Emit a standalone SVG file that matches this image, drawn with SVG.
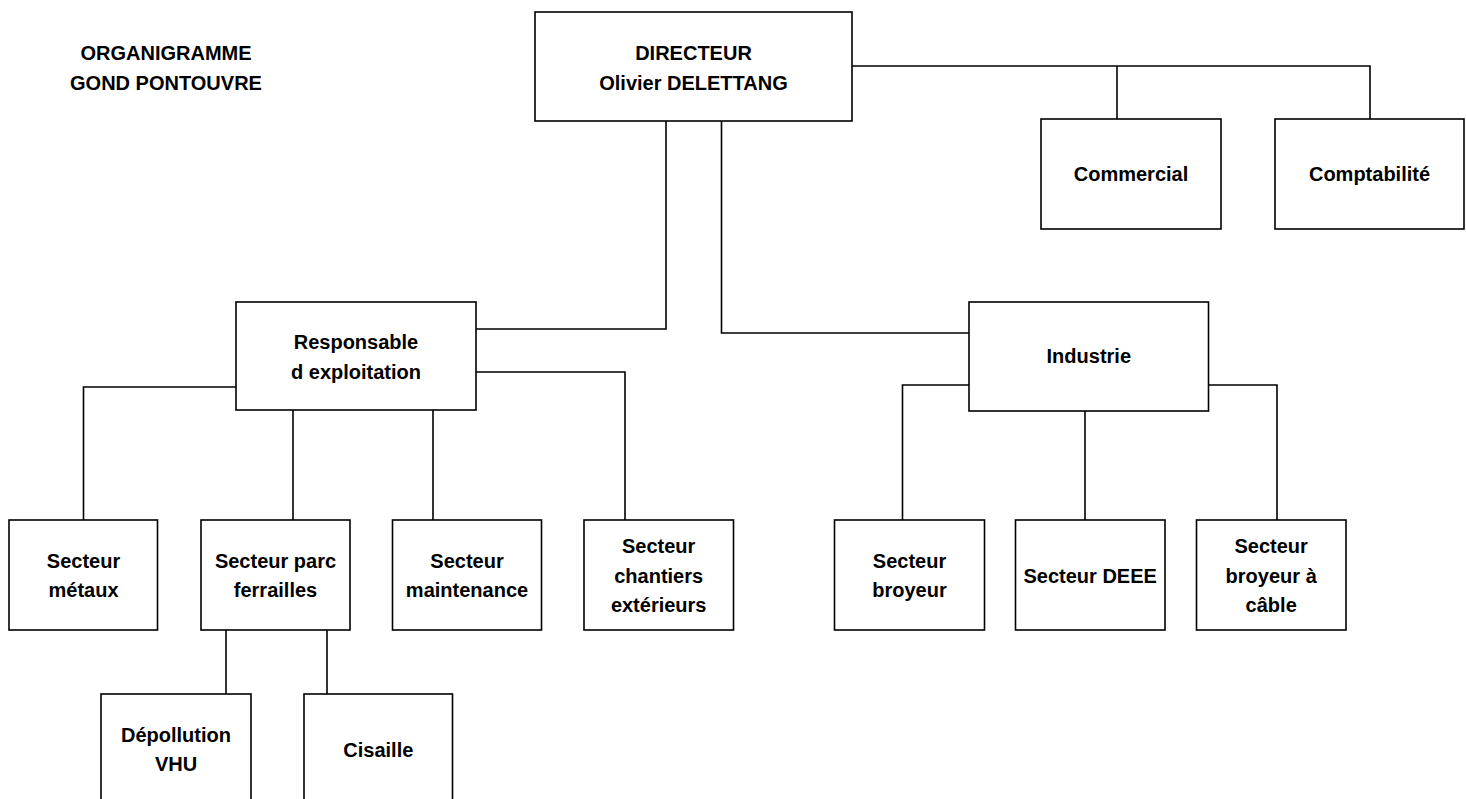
<svg xmlns="http://www.w3.org/2000/svg" width="1466" height="799" viewBox="0 0 1466 799">
<style>
  .box { fill: #ffffff; stroke: #000000; stroke-width: 1.6; }
  .conn { fill: none; stroke: #000000; stroke-width: 1.6; }
  text { font-family: "Liberation Sans", Arial, sans-serif; font-weight: bold; font-size: 20px; fill: #000000; text-anchor: middle; }
</style>
<rect x="0" y="0" width="1466" height="799" fill="#ffffff"/>
<g id="title">
  <text x="166" y="60">ORGANIGRAMME</text>
  <text x="166" y="90">GOND PONTOUVRE</text>
</g>
<g id="connectors">
  <path class="conn" d="M666,121 V329 H476"/>
  <path class="conn" d="M721.5,121 V333 H969"/>
  <path class="conn" d="M852,66 H1370 V119"/>
  <path class="conn" d="M1117,66 V119"/>
  <path class="conn" d="M236,387 H83.5 V520"/>
  <path class="conn" d="M293,410 V520"/>
  <path class="conn" d="M433,410 V520"/>
  <path class="conn" d="M476,372 H625 V520"/>
  <path class="conn" d="M226,630 V694"/>
  <path class="conn" d="M327,630 V694"/>
  <path class="conn" d="M969,385 H902.5 V520"/>
  <path class="conn" d="M1085,411 V520"/>
  <path class="conn" d="M1208.5,385 H1277 V520"/>
</g>
<g id="directeur">
  <rect class="box" x="535" y="12" width="317" height="109"/>
  <text x="693.5" y="60">DIRECTEUR</text>
  <text x="693.5" y="90">Olivier DELETTANG</text>
</g>
<g id="commercial">
  <rect class="box" x="1041" y="119" width="180" height="110"/>
  <text x="1131" y="181">Commercial</text>
</g>
<g id="comptabilite">
  <rect class="box" x="1275" y="119" width="189" height="110"/>
  <text x="1369.5" y="181">Comptabilité</text>
</g>
<g id="responsable">
  <rect class="box" x="236" y="302" width="240" height="108"/>
  <text x="356" y="349">Responsable</text>
  <text x="356" y="379">d exploitation</text>
</g>
<g id="industrie">
  <rect class="box" x="969" y="302" width="239.5" height="109"/>
  <text x="1088.8" y="363">Industrie</text>
</g>
<g id="secteur-metaux">
  <rect class="box" x="9" y="520" width="148.5" height="110"/>
  <text x="83.5" y="568">Secteur</text>
  <text x="83.5" y="597">métaux</text>
</g>
<g id="secteur-parc">
  <rect class="box" x="201" y="520" width="149" height="110"/>
  <text x="275.5" y="568">Secteur parc</text>
  <text x="275.5" y="597">ferrailles</text>
</g>
<g id="secteur-maintenance">
  <rect class="box" x="392.5" y="520" width="149" height="110"/>
  <text x="467" y="568">Secteur</text>
  <text x="467" y="597">maintenance</text>
</g>
<g id="secteur-chantiers">
  <rect class="box" x="584" y="520" width="149.5" height="110"/>
  <text x="658.7" y="553">Secteur</text>
  <text x="658.7" y="582.5">chantiers</text>
  <text x="658.7" y="611.5">extérieurs</text>
</g>
<g id="depollution">
  <rect class="box" x="101" y="694" width="150" height="130"/>
  <text x="176" y="742">Dépollution</text>
  <text x="176" y="771">VHU</text>
</g>
<g id="cisaille">
  <rect class="box" x="304" y="694" width="148.5" height="130"/>
  <text x="378.3" y="757">Cisaille</text>
</g>
<g id="secteur-broyeur">
  <rect class="box" x="834.5" y="520" width="150" height="110"/>
  <text x="909.5" y="568">Secteur</text>
  <text x="909.5" y="597">broyeur</text>
</g>
<g id="secteur-deee">
  <rect class="box" x="1015.5" y="520" width="149.5" height="110"/>
  <text x="1090.2" y="582.5">Secteur DEEE</text>
</g>
<g id="secteur-broyeur-cable">
  <rect class="box" x="1196.5" y="520" width="149.5" height="110"/>
  <text x="1271.2" y="553">Secteur</text>
  <text x="1271.2" y="582.5">broyeur à</text>
  <text x="1271.2" y="611.5">câble</text>
</g>
</svg>
